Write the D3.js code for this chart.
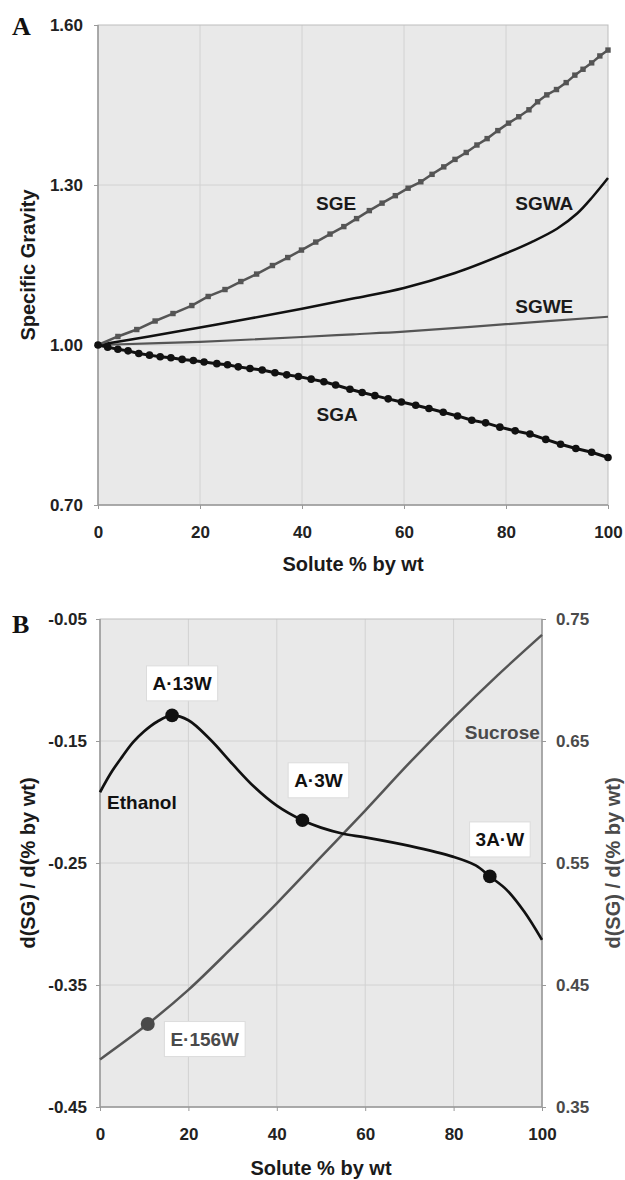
<!DOCTYPE html>
<html>
<head>
<meta charset="utf-8">
<script src="https://cdn.jsdelivr.net/npm/d3@7"></script>
<style>
  body { margin: 0; background: #fff; }
  svg { display: block; font-family: "Liberation Sans", Arial, sans-serif; font-weight: bold; }
</style>
</head>
<body>
<svg id="chartSVG"></svg>
<script>
// ---- data ----
var xTicks = [0, 20, 40, 60, 80, 100]
var sgTicks = [0.70, 1.00, 1.30, 1.60]
var leftTicksB = [-0.45, -0.35, -0.25, -0.15, -0.05]
var rightTicksB = [0.35, 0.45, 0.55, 0.65, 0.75]

// SGE (sucrose), marker points
var sgeX = [0, 3.9, 7.6, 11.2, 14.7, 18.4, 21.6, 24.9, 28.0, 31.1, 34.2, 37.2, 39.9, 42.7, 45.5, 48.2,
    50.7, 53.2, 55.7, 58.3, 60.8, 63.3, 65.5, 67.8, 70.0, 72.2, 74.3, 76.3, 78.4, 80.5, 82.5, 84.5,
    86.2, 88.0, 89.9, 91.8, 93.5, 95.1, 96.8, 98.4, 100]
var sgeY = [1.000, 1.016, 1.029, 1.045, 1.059, 1.074, 1.091, 1.104, 1.119, 1.133, 1.149, 1.164, 1.178, 1.193, 1.208, 1.222,
    1.237, 1.252, 1.266, 1.280, 1.294, 1.306, 1.320, 1.334, 1.348, 1.361, 1.375, 1.387, 1.402, 1.416, 1.428, 1.441,
    1.456, 1.469, 1.479, 1.492, 1.506, 1.517, 1.529, 1.542, 1.553]

// SGA (ethanol), marker points
var sgaX = [0, 1.9, 3.9, 5.9, 8.0, 10.1, 12.2, 14.3, 16.5, 18.7, 20.8, 23.3, 25.4, 27.5, 29.8, 32.2,
    34.7, 37.0, 39.3, 41.8, 44.3, 46.6, 49.4, 51.8, 54.3, 56.9, 59.5, 62.3, 64.9, 67.7, 70.5, 73.3,
    76.0, 78.8, 81.8, 84.7, 87.8, 90.7, 93.7, 96.8, 100]
var sgaY = [1.000, 0.996, 0.992, 0.989, 0.984, 0.981, 0.978, 0.976, 0.973, 0.971, 0.968, 0.965, 0.963, 0.959, 0.956, 0.953,
    0.948, 0.944, 0.941, 0.936, 0.931, 0.925, 0.917, 0.911, 0.905, 0.899, 0.893, 0.887, 0.881, 0.874, 0.867, 0.859,
    0.854, 0.846, 0.839, 0.833, 0.823, 0.814, 0.806, 0.799, 0.789]

var sgwaX = [0, 10, 20, 30, 40, 50, 60, 70, 80, 85, 90, 94, 97, 100]
var sgwaY = [1.000, 1.016, 1.033, 1.050, 1.068, 1.087, 1.107, 1.135, 1.172, 1.193, 1.218, 1.247, 1.278, 1.313]

var sgweX = [0, 20, 40, 50, 60, 80, 100]
var sgweY = [1.000, 1.006, 1.015, 1.020, 1.025, 1.039, 1.053]

var seriesLabelsA = [
    {text: 'SGE', x: 46.7, y: 1.253},
    {text: 'SGWA', x: 87.5, y: 1.253},
    {text: 'SGWE', x: 87.5, y: 1.060},
    {text: 'SGA', x: 46.9, y: 0.8575}
]

// panel B: derivative curves
var ethanolX = [0, 2.5, 5, 7.5, 10, 13, 16.3, 20, 25, 30, 35, 40, 45.8, 50, 55, 60, 70, 80, 85, 88.2, 92, 96, 100]
var ethanolY = [-0.192, -0.176, -0.163, -0.151, -0.142, -0.134, -0.129, -0.133, -0.149, -0.169, -0.188, -0.203,
    -0.215, -0.221, -0.226, -0.229, -0.236, -0.245, -0.252, -0.261, -0.272, -0.290, -0.313]

var sucroseX = [0, 10.8, 20, 30, 40, 50, 60, 70, 80, 90, 100]
var sucroseY = [0.389, 0.418, 0.446, 0.481, 0.517, 0.555, 0.593, 0.632, 0.669, 0.704, 0.737]

var ethanolPoints = [
    {text: 'A\u00b713W', x: 16.3, y: -0.129, dx: 10, dy: -32},
    {text: 'A\u00b73W', x: 45.8, y: -0.215, dx: 16, dy: -40},
    {text: '3A\u00b7W', x: 88.2, y: -0.261, dx: 10, dy: -37}
]
var sucrosePoints = [
    {text: 'E\u00b7156W', x: 10.8, y: 0.418, dx: 57, dy: 15}
]

// ---- layout ----
var width = 625, height = 1180
var gray = '#555', black = '#111'
var svg
var fmt2 = function (d) { return d.toFixed(2) }

function drawFrame(g, x, y, yTicks) {
    var x0 = x.range()[0], x1 = x.range()[1]
    var y0 = y.range()[0], y1 = y.range()[1]
    g.append('rect').attr('x', x0).attr('y', y1).attr('width', x1 - x0).attr('height', y0 - y1)
        .style('fill', '#e9e9e9')
    g.selectAll('.vgrid').data(xTicks.slice(1, -1)).enter().append('line')
        .attr('x1', x).attr('x2', x).attr('y1', y1).attr('y2', y0)
        .style('stroke', '#d2d2d2').style('stroke-width', 1)
    g.selectAll('.hgrid').data(yTicks.slice(1, -1)).enter().append('line')
        .attr('x1', x0).attr('x2', x1).attr('y1', y).attr('y2', y)
        .style('stroke', '#d2d2d2').style('stroke-width', 1)
    g.append('rect').attr('x', x0).attr('y', y1).attr('width', x1 - x0).attr('height', y0 - y1)
        .style('fill', 'none').style('stroke', '#bdbdbd').style('stroke-width', 1)
    g.append('line').attr('x1', x0).attr('x2', x0).attr('y1', y1).attr('y2', y0)
        .style('stroke', '#999').style('stroke-width', 1.5)
    g.append('line').attr('x1', x0).attr('x2', x1).attr('y1', y0).attr('y2', y0)
        .style('stroke', '#999').style('stroke-width', 1.5)
}

function styleAxis(sel, color) {
    sel.select('.domain').remove()
    sel.selectAll('line').style('stroke', '#999')
    sel.selectAll('text').style('font-size', '17px').style('font-weight', 'bold')
        .style('fill', color).style('font-family', '"Liberation Sans", Arial, sans-serif')
}

function drawPanelA() {
    var x = d3.scaleLinear().domain([0, 100]).range([98, 608])
    var y = d3.scaleLinear().domain([0.7, 1.6]).range([505, 25])
    var g = svg.append('g')
    drawFrame(g, x, y, sgTicks)

    g.append('g').attr('transform', 'translate(98,0)')
        .call(d3.axisLeft(y).tickValues(sgTicks).tickFormat(fmt2).tickSize(4).tickPadding(11))
        .call(styleAxis, '#222')
    g.append('g').attr('transform', 'translate(0,505)')
        .call(d3.axisBottom(x).tickValues(xTicks).tickSize(4).tickPadding(17))
        .call(styleAxis, '#222')

    var line = d3.line().x(function (d) { return x(d[0]) }).y(function (d) { return y(d[1]) })
    var smooth = d3.line().curve(d3.curveCatmullRom).x(function (d) { return x(d[0]) }).y(function (d) { return y(d[1]) })

    g.append('path').attr('d', smooth(d3.zip(sgweX, sgweY)))
        .style('fill', 'none').style('stroke', gray).style('stroke-width', 2.2)
    g.append('path').attr('d', smooth(d3.zip(sgwaX, sgwaY)))
        .style('fill', 'none').style('stroke', black).style('stroke-width', 2.5)

    var sge = d3.zip(sgeX, sgeY)
    g.append('path').attr('d', line(sge))
        .style('fill', 'none').style('stroke', gray).style('stroke-width', 2.5)
    g.selectAll('.sgeMark').data(sge).enter().append('rect')
        .attr('x', function (d) { return x(d[0]) - 2.7 })
        .attr('y', function (d) { return y(d[1]) - 2.7 })
        .attr('width', 5.4).attr('height', 5.4)
        .style('fill', gray)

    var sga = d3.zip(sgaX, sgaY)
    g.append('path').attr('d', line(sga))
        .style('fill', 'none').style('stroke', black).style('stroke-width', 3)
    g.selectAll('.sgaMark').data(sga).enter().append('circle')
        .attr('cx', function (d) { return x(d[0]) })
        .attr('cy', function (d) { return y(d[1]) })
        .attr('r', 3.8)
        .style('fill', black)

    g.selectAll('.seriesLabel').data(seriesLabelsA).enter().append('text')
        .attr('x', function (d) { return x(d.x) })
        .attr('y', function (d) { return y(d.y) })
        .attr('text-anchor', 'middle')
        .style('font-size', '19px').style('fill', '#1a1a1a')
        .text(function (d) { return d.text })

    g.append('text').attr('transform', 'translate(35,265) rotate(-90)')
        .attr('text-anchor', 'middle').style('font-size', '20px').style('fill', '#1a1a1a')
        .text('Specific Gravity')
    g.append('text').attr('x', 353).attr('y', 571)
        .attr('text-anchor', 'middle').style('font-size', '20px').style('fill', '#1a1a1a')
        .text('Solute % by wt')
    g.append('text').attr('x', 12).attr('y', 35)
        .style('font-family', '"Liberation Serif", "Times New Roman", serif')
        .style('font-size', '26px').style('fill', '#111')
        .text('A')
}

function drawBoxLabel(g, cx, cy, text, color) {
    var t = g.append('text').attr('x', cx).attr('y', cy).attr('dy', '0.36em')
        .attr('text-anchor', 'middle').style('font-size', '19px').style('fill', color)
        .text(text)
    var bb = t.node().getBBox()
    g.insert('rect', function () { return t.node() })
        .attr('x', bb.x - 6).attr('y', cy - 17.5)
        .attr('width', bb.width + 12).attr('height', 35)
        .style('fill', '#fff').style('stroke', '#dcdcdc').style('stroke-width', 1)
}

function drawPanelB() {
    var x = d3.scaleLinear().domain([0, 100]).range([100, 542])
    var yL = d3.scaleLinear().domain([-0.45, -0.05]).range([1107, 619])
    var yR = d3.scaleLinear().domain([0.35, 0.75]).range([1107, 619])
    var g = svg.append('g')
    drawFrame(g, x, yL, leftTicksB)

    g.append('g').attr('transform', 'translate(100,0)')
        .call(d3.axisLeft(yL).tickValues(leftTicksB).tickFormat(fmt2).tickSize(4).tickPadding(9))
        .call(styleAxis, '#222')
    g.append('g').attr('transform', 'translate(542,0)')
        .call(d3.axisRight(yR).tickValues(rightTicksB).tickFormat(fmt2).tickSize(4).tickPadding(10))
        .call(styleAxis, '#4a4a4a')
    g.append('g').attr('transform', 'translate(0,1107)')
        .call(d3.axisBottom(x).tickValues(xTicks).tickSize(4).tickPadding(17))
        .call(styleAxis, '#222')
    g.append('line').attr('x1', 542).attr('x2', 542).attr('y1', 619).attr('y2', 1107)
        .style('stroke', '#999').style('stroke-width', 1.5)

    var lineL = d3.line().curve(d3.curveCatmullRom).x(function (d) { return x(d[0]) }).y(function (d) { return yL(d[1]) })
    var lineR = d3.line().curve(d3.curveCatmullRom).x(function (d) { return x(d[0]) }).y(function (d) { return yR(d[1]) })

    g.append('path').attr('d', lineR(d3.zip(sucroseX, sucroseY)))
        .style('fill', 'none').style('stroke', gray).style('stroke-width', 2.5)
    g.append('path').attr('d', lineL(d3.zip(ethanolX, ethanolY)))
        .style('fill', 'none').style('stroke', black).style('stroke-width', 2.7)

    g.selectAll('.ePt').data(ethanolPoints).enter().append('circle')
        .attr('cx', function (d) { return x(d.x) }).attr('cy', function (d) { return yL(d.y) })
        .attr('r', 6.8).style('fill', black)
    g.selectAll('.sPt').data(sucrosePoints).enter().append('circle')
        .attr('cx', function (d) { return x(d.x) }).attr('cy', function (d) { return yR(d.y) })
        .attr('r', 7).style('fill', '#4a4a4a')

    ethanolPoints.forEach(function (d) {
        drawBoxLabel(g, x(d.x) + d.dx, yL(d.y) + d.dy, d.text, '#111')
    })
    sucrosePoints.forEach(function (d) {
        drawBoxLabel(g, x(d.x) + d.dx, yR(d.y) + d.dy, d.text, '#4a4a4a')
    })

    g.append('text').attr('x', x(1.6)).attr('y', yL(-0.2057))
        .style('font-size', '19px').style('fill', '#111').text('Ethanol')
    g.append('text').attr('x', x(99.5)).attr('y', yR(0.652))
        .attr('text-anchor', 'end').style('font-size', '19px').style('fill', '#4a4a4a').text('Sucrose')

    g.append('text').attr('transform', 'translate(35,863) rotate(-90)')
        .attr('text-anchor', 'middle').style('font-size', '20px').style('fill', '#1a1a1a')
        .text('d(SG) / d(% by wt)')
    g.append('text').attr('transform', 'translate(620,863) rotate(-90)')
        .attr('text-anchor', 'middle').style('font-size', '20px').style('fill', '#4a4a4a')
        .text('d(SG) / d(% by wt)')
    g.append('text').attr('x', 321).attr('y', 1175)
        .attr('text-anchor', 'middle').style('font-size', '20px').style('fill', '#1a1a1a')
        .text('Solute % by wt')
    g.append('text').attr('x', 12).attr('y', 633)
        .style('font-family', '"Liberation Serif", "Times New Roman", serif')
        .style('font-size', '26px').style('fill', '#111')
        .text('B')
}

svg = d3.select('#chartSVG').attr('width', width).attr('height', height)
drawPanelA()
drawPanelB()
</script>
</body>
</html>
